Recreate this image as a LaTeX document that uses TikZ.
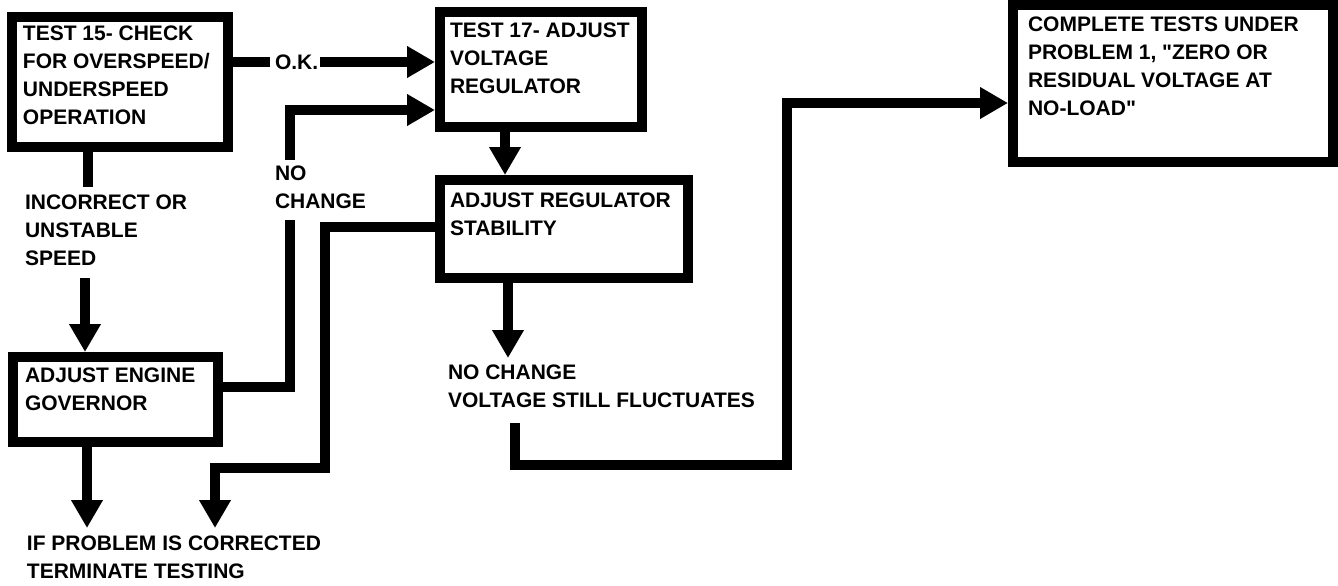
\documentclass[tikz,border=0pt]{standalone}
\usepackage{fontspec}
\setmainfont{Liberation Sans}[Ligatures=TeXOff]
\usetikzlibrary{arrows.meta}
\tikzset{
  box/.style={draw, line width=10pt, rectangle, inner sep=0pt},
  lbl/.style={inner sep=0pt, outer sep=0pt, anchor=north west, align=left,
              font=\fontsize{21}{28}\selectfont\bfseries},
  conn/.style={line width=10pt, line join=miter},
  arr/.style={conn, -{Triangle[length=28pt,width=30pt]}}
}
\begin{document}
\begin{tikzpicture}[x=1pt,y=-1pt]
\useasboundingbox (0,0) rectangle (1338,586);
% boxes
\node[box, minimum width=216pt, minimum height=130pt] (box1) at (120,82) {};
\node[box, minimum width=202pt, minimum height=115pt] (box2) at (541,69.5) {};
\node[box, minimum width=248pt, minimum height=98pt] (box3) at (564,229) {};
\node[box, minimum width=205pt, minimum height=85pt] (box4) at (115.5,399.5) {};
\node[box, minimum width=320pt, minimum height=157pt] (box5) at (1173,83.5) {};
% box texts
\node[lbl] (t1) at (23,26) {TEST 15- CHECK\\FOR OVERSPEED/\\UNDERSPEED\\OPERATION};
\node[lbl] (t2) at (450,23) {TEST 17- ADJUST\\VOLTAGE\\REGULATOR};
\node[lbl] (t3) at (450,193) {ADJUST REGULATOR\\STABILITY};
\node[lbl] (t4) at (25,368) {ADJUST ENGINE\\GOVERNOR};
\node[lbl] (t5) at (1028,17) {COMPLETE TESTS UNDER\\PROBLEM 1, "ZERO OR\\RESIDUAL VOLTAGE AT\\NO-LOAD"};
% free labels
\node[lbl, anchor=west] (ok) at (275,62) {O.K.};
\node[lbl] (nc) at (275,166) {NO\\CHANGE};
\node[lbl] (inc) at (25,195) {INCORRECT OR\\UNSTABLE\\SPEED};
\node[lbl] (vs) at (448,365) {NO CHANGE\\VOLTAGE STILL FLUCTUATES};
\node[lbl] (ifp) at (27,536) {IF PROBLEM IS CORRECTED\\TERMINATE TESTING};
% helper coordinates
\coordinate (okR) at (320,62);
\coordinate (ncTop) at (290,160);
\coordinate (ncBot) at (290,220);
\coordinate (incTop) at (88,187);
\coordinate (incBot) at (85,278);
\coordinate (b3bend) at (325,468);
\coordinate (tipA) at (87,528);
\coordinate (tipB) at (215,528);
\coordinate (vsBot) at (515,423);
\coordinate (rbend) at (787,465);
\coordinate (rtop) at (787,103);
% connectors
\draw[conn] (box1.east |- ok) -- ([xshift=-5pt]ok.west);
\draw[arr] (okR) -- (box2.west |- okR);
\draw[arr] (ncTop) |- (box2.west |- 0,110);
\draw[conn] (box4.east |- 0,387) -| (ncBot);
\draw[conn] (box1.south -| incTop) -- (incTop);
\draw[arr] (incBot) -- (box4.north -| incBot);
\draw[arr] (box4.south -| tipA) -- (tipA);
\draw[arr] (box3.west |- 0,227) -| (b3bend) -| (tipB);
\draw[arr] (box2.south -| 505,0) -- (box3.north -| 505,0);
\draw[arr] (box3.south -| 508,0) -- (508,358);
\draw[arr] (vsBot) |- (rbend) -- (rtop) -- (box5.west |- rtop);
\end{tikzpicture}
\end{document}
